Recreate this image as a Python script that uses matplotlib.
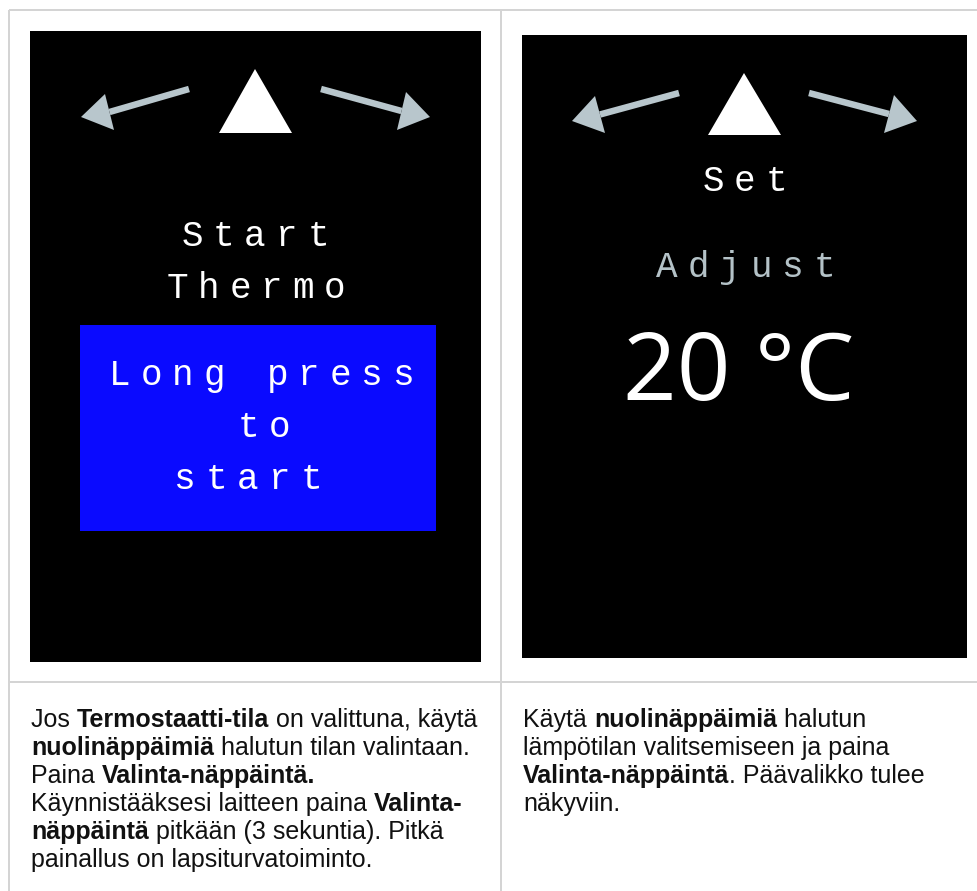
import matplotlib
matplotlib.use('Agg')
import matplotlib.pyplot as plt
from matplotlib import font_manager as fm
from matplotlib.patches import Rectangle, Polygon

W, H = 978, 891
PT = 72 / 100.0  # points per pixel at dpi 100

# ---- content -------------------------------------------------------------
left_screen_lines = ["Start", "Thermo"]
left_box_lines = ["Long press", "to", "start"]
right_screen_lines = ["Set", "Adjust"]
temperature_label = "20 °C"

left_caption = [
    [("Jos ", "normal"), ("Termostaatti-tila", "bold"), (" on valittuna, käytä", "normal")],
    [("nuolinäppäimiä", "bold"), (" halutun tilan valintaan.", "normal")],
    [("Paina ", "normal"), ("Valinta-näppäintä.", "bold")],
    [("Käynnistääksesi laitteen paina ", "normal"), ("Valinta-", "bold")],
    [("näppäintä", "bold"), (" pitkään (3 sekuntia). Pitkä", "normal")],
    [("painallus on lapsiturvatoiminto.", "normal")],
]
right_caption = [
    [("Käytä ", "normal"), ("nuolinäppäimiä", "bold"), (" halutun", "normal")],
    [("lämpötilan valitsemiseen ja paina", "normal")],
    [("Valinta-näppäintä", "bold"), (". Päävalikko tulee", "normal")],
    [("näkyviin.", "normal")],
]

# ---- colours -------------------------------------------------------------
GRID = "#d4d4d4"
ARROW = "#b8c6cc"
BLUE = "#0a0aff"
ADJUST = "#b4c2c7"
TEXT = "#111111"


def find_font(family, bold):
    best = None
    for f in fm.fontManager.ttflist:
        if f.name != family or f.style != 'normal':
            continue
        w = f.weight if isinstance(f.weight, int) else (700 if 'bold' in str(f.weight) else 400)
        if (w >= 600) != bold:
            continue
        if 'Narrow' in f.fname or 'narrow' in f.fname:
            continue
        best = f.fname
        break
    if best:
        return fm.FontProperties(fname=best)
    return fm.FontProperties(family=family, weight='bold' if bold else 'normal')


SANS_N = find_font('Liberation Sans', False)
SANS_B = find_font('Liberation Sans', True)

fig = plt.figure(figsize=(W / 100, H / 100), dpi=100)
ax = fig.add_axes([0, 0, 1, 1])
ax.set_xlim(0, W)
ax.set_ylim(H, 0)
ax.axis('off')

# table grid
for xs, ys in [((9, W), (10, 10)), ((9, 9), (10, H)), ((501, 501), (10, H)), ((9, W), (682, 682))]:
    ax.plot(xs, ys, color=GRID, lw=2 * PT, solid_capstyle='butt')

# screens
ax.add_patch(Rectangle((30, 31), 451, 631, color='black', lw=0))
ax.add_patch(Rectangle((522, 35), 445, 623, color='black', lw=0))
ax.add_patch(Rectangle((80, 325), 356, 206, color=BLUE, lw=0))


def arrow(tail, tip, b1, b2):
    mid = ((b1[0] + b2[0]) / 2, (b1[1] + b2[1]) / 2)
    ax.plot([tail[0], mid[0]], [tail[1], mid[1]], color=ARROW, lw=6.5 * PT, solid_capstyle='butt')
    ax.add_patch(Polygon([tip, b1, b2], closed=True, color=ARROW, lw=0))


# left screen icons
arrow((189, 89), (81, 117), (105, 94), (114, 130))
ax.add_patch(Polygon([(255, 69), (219, 133), (292, 133)], closed=True, color='white', lw=0))
arrow((321, 89), (430, 117), (406, 92), (397, 130))
# right screen icons
arrow((679, 93), (572, 121), (595, 96), (605, 133))
ax.add_patch(Polygon([(744, 73), (708, 135), (781, 135)], closed=True, color='white', lw=0))
arrow((809, 93), (917, 121), (894, 95), (884, 133))

MONO = 'Liberation Mono'
MSIZE = 36 * PT
PITCH = 31.5


def spaced(text, x_first, y, color='white'):
    for i, ch in enumerate(text):
        if ch == ' ':
            continue
        ax.text(x_first + i * PITCH, y, ch, ha='center', va='baseline',
                fontsize=MSIZE, family=MONO, color=color)


spaced(left_screen_lines[0], 192, 246)
spaced(left_screen_lines[1], 177, 298)
spaced(left_box_lines[0], 120, 385)
spaced(left_box_lines[1], 248, 437)
spaced(left_box_lines[2], 185, 489)
spaced(right_screen_lines[0], 713, 191)
spaced(right_screen_lines[1], 667, 277, color=ADJUST)

ax.text(739, 400, temperature_label, ha='center', va='baseline',
        fontsize=94 * PT, family='Open Sans', color='white')

# captions with inline bold
CSIZE = 25 * PT
renderer = fig.canvas.get_renderer()


def props(wgt):
    return SANS_B if wgt == 'bold' else SANS_N


def seg_width(s, wgt):
    t1 = ax.text(0, 0, '|' + s + '|', fontsize=CSIZE, fontproperties=props(wgt))
    t2 = ax.text(0, 0, '||', fontsize=CSIZE, fontproperties=props(wgt))
    t1.set_fontsize(CSIZE)
    t2.set_fontsize(CSIZE)
    w = t1.get_window_extent(renderer).width - t2.get_window_extent(renderer).width
    t1.remove()
    t2.remove()
    return w


def caption(lines, x0, y0, dy=28):
    for j, line in enumerate(lines):
        x = x0
        for s, wgt in line:
            t = ax.text(x, y0 + j * dy, s, ha='left', va='baseline',
                        fontproperties=props(wgt), color=TEXT)
            t.set_fontsize(CSIZE)
            x += seg_width(s, wgt)


caption(left_caption, 31, 727)
caption(right_caption, 523, 727)

fig.savefig('out.png', dpi=100)
